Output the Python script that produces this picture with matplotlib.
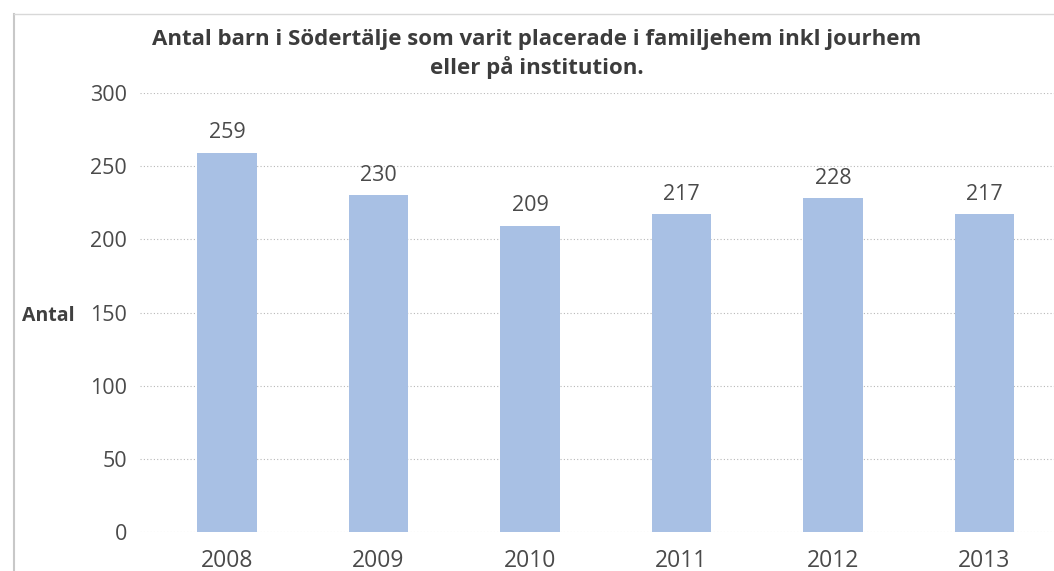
import matplotlib
matplotlib.use("Agg")
import matplotlib.pyplot as plt
from matplotlib.lines import Line2D

years = ["2008", "2009", "2010", "2011", "2012", "2013"]
values = [259, 230, 209, 217, 228, 217]
yticks = [0, 50, 100, 150, 200, 250, 300]
title = "Antal barn i Södertälje som varit placerade i familjehem inkl jourhem\neller på institution."
ylabel = "Antal"

plt.rcParams['font.family'] = ['Open Sans', 'DejaVu Sans']

W, H = 1054, 571
fig = plt.figure(figsize=(W / 100, H / 100), dpi=100)
ax = fig.add_axes([140 / W, 1 - 532 / H, (1054 - 140) / W, (532 - 93) / H])

x = list(range(len(years)))
ax.bar(x, values, width=0.39, color="#A8C0E4", zorder=2)
for xi, v in zip(x, values):
    ax.annotate(str(v), (xi, v), xytext=(0, 7), textcoords="offset points",
                ha="center", va="bottom", fontsize=15.5, color="#4a4a4a")

ax.set_xlim(-0.574, 5.459)
ax.set_ylim(0, 300)
ax.set_yticks(yticks)
ax.set_yticklabels([str(t) for t in yticks], fontsize=15.5, color="#4a4a4a")
ax.set_xticks(x)
ax.set_xticklabels(years, fontsize=16.5, color="#4a4a4a")
ax.tick_params(length=0)
ax.tick_params(axis="y", pad=9.5)
ax.tick_params(axis="x", pad=12)
ax.grid(axis="y", color="#b8b8b8", linestyle=(0, (1, 2)), linewidth=0.8, zorder=0)
for s in ax.spines.values():
    s.set_visible(False)

fig.text(75 / W, 1 - 316 / H, ylabel, ha="right", va="center", fontsize=14, fontweight="bold", color="#404040")
fig.text(537 / W, 1 - 54 / H, title, ha="center", va="center", fontsize=16, fontweight="bold",
         color="#3c3c3c", linespacing=1.35)

# page frame lines from the scanned document
fig.add_artist(Line2D([14 / W, 14 / W], [0, 1 - 14 / H], color="#c8c8c8", linewidth=1.5, transform=fig.transFigure))
fig.add_artist(Line2D([14 / W, 1], [1 - 14 / H, 1 - 14 / H], color="#d8d8d8", linewidth=1.0, transform=fig.transFigure))

fig.savefig("out.png", dpi=100)
